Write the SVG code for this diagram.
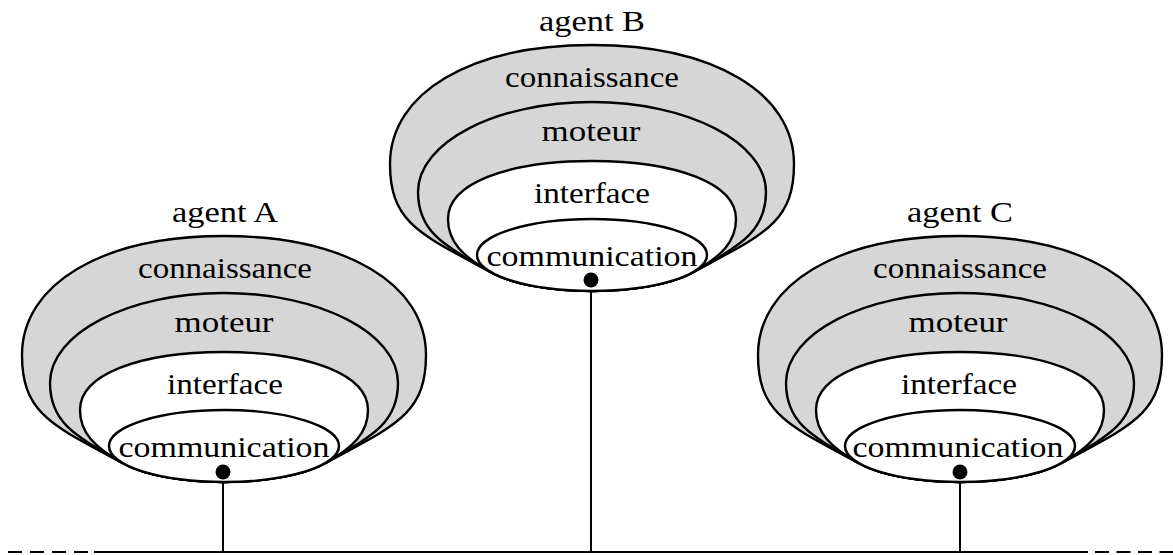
<svg xmlns="http://www.w3.org/2000/svg" xmlns:xlink="http://www.w3.org/1999/xlink" width="1173" height="555" viewBox="0 0 1173 555">
  <style>
    .layer { stroke: #000; stroke-width: 2.4; stroke-linejoin: round; }
    .shade { fill: #d6d6d6; }
    .clear { fill: #fff; }
    .lbl { font-family: "Liberation Serif", "Times New Roman", serif; font-size: 30px; fill: #000; text-anchor: middle; }
    .wire { stroke: #000; stroke-width: 2; fill: none; }
    .port { fill: #000; }
  </style>
  <defs>
    <!-- nested layers of one agent, drawn around x = 0; every layer runs into the bottom of the inner ellipse -->
    <g id="agent-layers">
      <path class="layer shade" d="M -99.6 464 C -170 425.8 -202 415 -202 355 C -202 283.6 -121.2 236 0 236 C 121.2 236 202 283.6 202 355 C 202 415 170 425.8 99.6 464 A 115 36 0 0 1 -99.6 464 Z"/>
      <path class="layer shade" d="M -99.6 464 C -152.3 435.4 -174 420 -174 383 C -174 333.3 -96 293 0 293 C 96 293 174 333.3 174 383 C 174 420 152.3 435.4 99.6 464 A 115 36 0 0 1 -99.6 464 Z"/>
      <path class="layer clear" d="M -99.6 464 C -130.4 447.3 -144 432 -144 410 C -144 375.2 -86.4 352 0 352 C 86.4 352 144 375.2 144 410 C 144 432 130.4 447.3 99.6 464 A 115 36 0 0 1 -99.6 464 Z"/>
      <ellipse class="layer clear" cx="0" cy="446" rx="115" ry="36"/>
    </g>
  </defs>

  <!-- bus and drop lines -->
  <g id="connectors">
    <line class="wire" x1="8" y1="552" x2="88" y2="552" stroke-dasharray="14 8"/>
    <line class="wire" x1="94" y1="552" x2="1088" y2="552"/>
    <line class="wire" x1="1095" y1="552" x2="1173" y2="552" stroke-dasharray="14 7.5"/>
    <line class="wire" x1="223" y1="472" x2="223" y2="552"/>
    <line class="wire" x1="591" y1="280" x2="591" y2="552"/>
    <line class="wire" x1="960" y1="472" x2="960" y2="552"/>
  </g>

  <g id="agent-a" transform="translate(224 0)">
    <use xlink:href="#agent-layers"/>
    <text class="lbl" x="1" y="222" textLength="106" lengthAdjust="spacingAndGlyphs">agent A</text>
    <text class="lbl" x="1" y="278" textLength="174" lengthAdjust="spacingAndGlyphs">connaissance</text>
    <text class="lbl" x="0" y="332" textLength="99" lengthAdjust="spacingAndGlyphs">moteur</text>
    <text class="lbl" x="1" y="394" textLength="116" lengthAdjust="spacingAndGlyphs">interface</text>
    <text class="lbl" x="0" y="457" textLength="211" lengthAdjust="spacingAndGlyphs">communication</text>
    <circle class="port" cx="-1" cy="472" r="7.5"/>
  </g>

  <g id="agent-b" transform="translate(592 -191)">
    <use xlink:href="#agent-layers"/>
    <text class="lbl" x="0" y="222" textLength="106" lengthAdjust="spacingAndGlyphs">agent B</text>
    <text class="lbl" x="0" y="278" textLength="174" lengthAdjust="spacingAndGlyphs">connaissance</text>
    <text class="lbl" x="-1" y="332" textLength="99" lengthAdjust="spacingAndGlyphs">moteur</text>
    <text class="lbl" x="0" y="394" textLength="116" lengthAdjust="spacingAndGlyphs">interface</text>
    <text class="lbl" x="0" y="457" textLength="211" lengthAdjust="spacingAndGlyphs">communication</text>
    <circle class="port" cx="-1" cy="471" r="7.5"/>
  </g>

  <g id="agent-c" transform="translate(960 0)">
    <use xlink:href="#agent-layers"/>
    <text class="lbl" x="0" y="222" textLength="106" lengthAdjust="spacingAndGlyphs">agent C</text>
    <text class="lbl" x="0" y="278" textLength="174" lengthAdjust="spacingAndGlyphs">connaissance</text>
    <text class="lbl" x="-2" y="332" textLength="99" lengthAdjust="spacingAndGlyphs">moteur</text>
    <text class="lbl" x="-1" y="394" textLength="116" lengthAdjust="spacingAndGlyphs">interface</text>
    <text class="lbl" x="-2" y="457" textLength="211" lengthAdjust="spacingAndGlyphs">communication</text>
    <circle class="port" cx="0" cy="472" r="7.5"/>
  </g>
</svg>
